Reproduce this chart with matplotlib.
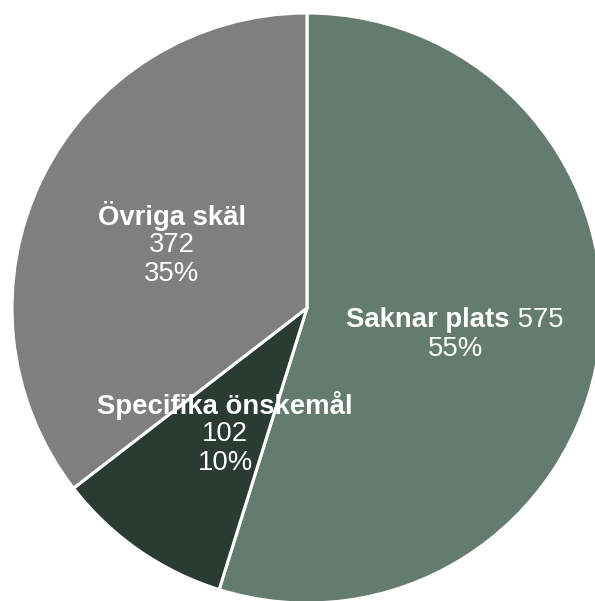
import matplotlib
matplotlib.use('Agg')
import matplotlib.pyplot as plt

plt.rcParams['font.family'] = ['Liberation Sans', 'DejaVu Sans']

# data
categories = ['Saknar plats', 'Specifika önskemål', 'Övriga skäl']
counts = [575, 102, 372]
percents = ['55%', '10%', '35%']
colors = ['#647b70', '#2a3b34', '#7f7f7f']

W, H = 595, 601
cx, cy, R = 307, 308, 295   # pie centre and radius in pixels

fig = plt.figure(figsize=(W / 100, H / 100), dpi=100)
ax = fig.add_axes([0, 0, 1, 1])
ax.pie(counts, colors=colors, startangle=90, counterclock=False, radius=R,
       wedgeprops=dict(edgecolor='white', linewidth=2.2))
ax.set_xlim(-cx, W - cx)
ax.set_ylim(-(H - cy), cy)
ax.set_aspect('auto')
ax.axis('off')

fs = 19.8
step = 29
# label anchor (pixel centre x, y of first line) and line layout
layouts = {
    'Saknar plats': ((455, 320), [[('Saknar plats', True), (' 575', False)], [('55%', False)]]),
    'Specifika önskemål': ((225, 405), [[('Specifika önskemål', True)], [('102', False)], [('10%', False)]]),
    'Övriga skäl': ((172, 216), [[('Övriga skäl', True)], [('372', False)], [('35%', False)]]),
}

renderer = fig.canvas.get_renderer()
for name, n, p in zip(categories, counts, percents):
    (px, py), lines = layouts[name]
    for i, parts in enumerate(lines):
        y = cy - (py + i * step)
        texts = []
        for s, bold in parts:
            t = ax.text(0, y, s, color='white', fontsize=fs,
                        fontweight='bold' if bold else 'normal',
                        ha='left', va='center')
            texts.append(t)
        widths = [t.get_window_extent(renderer).width for t in texts]
        x = px - cx - sum(widths) / 2
        for t, w in zip(texts, widths):
            t.set_x(x)
            x += w

fig.savefig('out.png', dpi=100)
